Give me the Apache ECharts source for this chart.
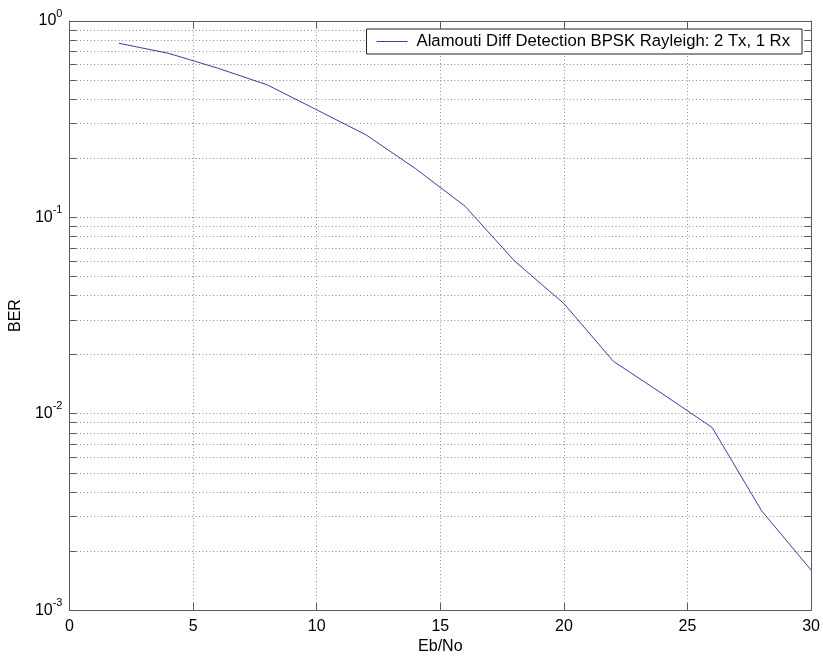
<!DOCTYPE html>
<html>
<head>
<meta charset="utf-8">
<script src="https://cdn.jsdelivr.net/npm/echarts@6/dist/echarts.min.js"></script>
<style>
html,body{margin:0;padding:0;background:#fff;}
#chart{width:823px;height:660px;}
</style>
</head>
<body>
<div id="chart"></div>
<script>
// ---- data ----
const ebNo = [2, 4, 6, 8, 10, 12, 14, 16, 18, 20, 22, 24, 26, 28, 30];
const ber = [0.77, 0.685, 0.575, 0.473, 0.353, 0.263, 0.177, 0.114, 0.060, 0.0364, 0.0185, 0.0126, 0.0085, 0.0032, 0.0016];
const seriesName = 'Alamouti Diff Detection BPSK Rayleigh: 2 Tx, 1 Rx';
const xTicks = [0, 5, 10, 15, 20, 25, 30];
const yTickValues = [
  0.001, 0.002, 0.003, 0.004, 0.005, 0.006, 0.007, 0.008, 0.009,
  0.01, 0.02, 0.03, 0.04, 0.05, 0.06, 0.07, 0.08, 0.09,
  0.1, 0.2, 0.3, 0.4, 0.5, 0.6, 0.7, 0.8, 0.9, 1
];
const yLabelValues = [0.001, 0.01, 0.1, 1];
const yLabelExp = {'0.001': '-3', '0.01': '-2', '0.1': '-1', '1': '0'};

const FONT = 'Liberation Sans, Arial, Helvetica, sans-serif';
const axisColor = '#5a5a5a';
const gridColor = '#8c8c8c';
const lineColor = '#3d3d9e';

const chart = echarts.init(document.getElementById('chart'), null, {renderer: 'canvas'});

const pairs = ebNo.map((x, i) => [x, ber[i]]);

function yLabel(v) {
  const key = String(+v.toPrecision(3));
  const e = yLabelExp[key] !== undefined ? yLabelExp[key] : String(Math.round(Math.log10(v)));
  return '{b|10}{s|' + e + '}';
}

const option = {
  backgroundColor: '#ffffff',
  animation: false,
  grid: {left: 67, right: 11, top: 21, bottom: 49, containLabel: false},
  legend: {
    show: true,
    data: [{name: seriesName, icon: 'rect'}],
    right: 21,
    top: 29,
    orient: 'horizontal',
    padding: [4, 12, 4, 10],
    itemWidth: 31,
    itemHeight: 1,
    itemGap: 0,
    backgroundColor: '#ffffff',
    borderColor: '#222222',
    borderWidth: 1,
    textStyle: {fontFamily: FONT, fontSize: 16.7, color: '#000', padding: [0, 0, 0, 4]}
  },
  xAxis: [
    {
      type: 'value', min: xTicks[0], max: xTicks[xTicks.length - 1], interval: 5,
      position: 'bottom',
      name: 'Eb/No', nameLocation: 'middle', nameGap: 27,
      nameTextStyle: {fontFamily: FONT, fontSize: 16, color: '#000'},
      axisLine: {show: true, onZero: false, lineStyle: {color: axisColor, width: 1}},
      axisTick: {show: true, inside: true, length: 7, lineStyle: {color: axisColor}},
      axisLabel: {show: true, margin: 8, fontFamily: FONT, fontSize: 16, color: '#000'},
      splitLine: {show: true, lineStyle: {color: gridColor, type: [1, 2.5], width: 1}}
    },
    {
      type: 'value', min: xTicks[0], max: xTicks[xTicks.length - 1], interval: 5,
      position: 'top',
      axisLine: {show: true, onZero: false, lineStyle: {color: axisColor, width: 1}},
      axisTick: {show: true, inside: true, length: 7, lineStyle: {color: axisColor}},
      axisLabel: {show: false},
      splitLine: {show: false}
    }
  ],
  yAxis: [
    {
      type: 'log', logBase: 10, min: 0.001, max: 1,
      position: 'left',
      name: 'BER', nameLocation: 'middle', nameGap: 38,
      nameTextStyle: {fontFamily: FONT, fontSize: 16, color: '#000'},
      axisLine: {show: true, onZero: false, lineStyle: {color: axisColor, width: 1}},
      axisTick: {show: true, inside: true, length: 7, customValues: yTickValues, lineStyle: {color: axisColor}},
      axisLabel: {
        show: true, margin: 7, customValues: yLabelValues,
        formatter: yLabel,
        rich: {
          b: {fontFamily: FONT, fontSize: 16, lineHeight: 26, color: '#000'},
          s: {fontFamily: FONT, fontSize: 11, lineHeight: 12, color: '#000', verticalAlign: 'top'}
        }
      },
      splitLine: {show: true, lineStyle: {color: gridColor, type: [1, 2.5], width: 1}},
      minorTick: {show: false},
      minorSplitLine: {show: false}
    },
    {
      type: 'log', logBase: 10, min: 0.001, max: 1,
      position: 'right',
      axisLine: {show: true, onZero: false, lineStyle: {color: axisColor, width: 1}},
      axisTick: {show: true, inside: true, length: 7, customValues: yTickValues, lineStyle: {color: axisColor}},
      axisLabel: {show: false},
      splitLine: {show: false}
    }
  ],
  series: [
    {
      name: seriesName,
      type: 'line',
      xAxisIndex: 0,
      yAxisIndex: 0,
      data: pairs,
      showSymbol: false,
      symbol: 'none',
      color: lineColor,
      lineStyle: {color: lineColor, width: 1},
      itemStyle: {color: lineColor},
      smooth: false
    }
  ]
};
chart.setOption(option);
</script>
</body>
</html>
